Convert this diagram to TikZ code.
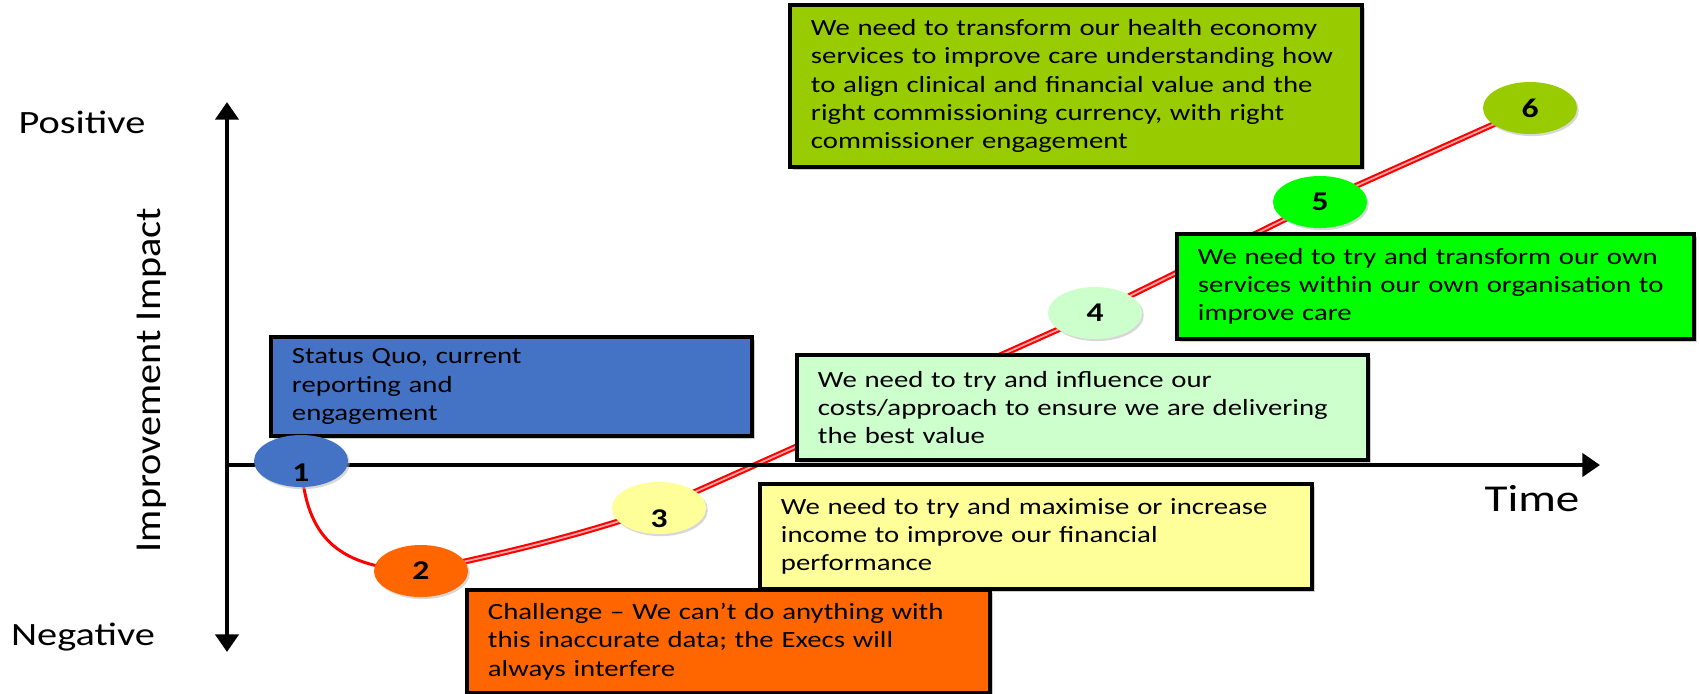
\documentclass[tikz,border=0pt]{standalone}
\usepackage{fontspec}
\setmainfont{Carlito}[FakeStretch=1.24]
\newfontfamily\plainfont{Carlito}[FakeStretch=1.1]
\usetikzlibrary{shapes.geometric,shadows,backgrounds,arrows.meta}

\definecolor{quoblue}{HTML}{4472C4}
\definecolor{challenge}{HTML}{FF6600}
\definecolor{income}{HTML}{FFFF99}
\definecolor{costs}{HTML}{CCFFCC}
\definecolor{ownserv}{HTML}{00FF00}
\definecolor{economy}{HTML}{99CC00}

\tikzset{
  >={Triangle[length=5pt,width=6.5pt]},
  axis/.style={line width=1.3pt, black},
  stage/.style={draw=black, line width=1.1pt, fill=#1, anchor=north west,
    inner xsep=0.21cm, align=left, font=\fontsize{6.6}{8.05}\selectfont,
    drop shadow={shadow xshift=0.9pt, shadow yshift=-0.9pt, fill=gray!80}},
  marker/.style={ellipse, fill=#1, minimum width=0.94cm, minimum height=0.52cm,
    inner sep=0pt, font=\bfseries\fontsize{7.7}{9}\selectfont,
    drop shadow={shadow xshift=0.5pt, shadow yshift=-0.6pt, fill=gray!60}},
  pathline/.style={draw=red, line width=0.6pt, double=red!35, double distance=0.5pt, line join=round},
}

\begin{document}
\begin{tikzpicture}[x=0.01cm, y=-0.01cm]
    \useasboundingbox (0,0) rectangle (1700,693);

    % axes
    \coordinate (origin) at (227,465);
    \coordinate (ytop) at (227,102);
    \coordinate (ybot) at (227,652);
    \coordinate (xend) at (1600,465);
    \draw[axis, <->] (ybot) -- (ytop);
    \draw[axis, ->] (origin) -- (xend);

    \node[anchor=base, font=\fontsize{9.25}{11}\selectfont] (pos) at (82,133) {Positive};
    \node[anchor=base, font=\fontsize{9.25}{11}\selectfont] (neg) at (83,645) {Negative};
    \node[anchor=base, font=\fontsize{10.8}{13}\selectfont] (time) at (1532,511) {Time};
    \node[anchor=base, rotate=90, font=\plainfont\fontsize{10.4}{12}\selectfont] (impact) at (160,380) {Improvement Impact};

    % boxes
    \node[stage=quoblue, minimum width=4.81cm, minimum height=0.91cm, text width=4.39cm] (quo) at (269,335)
        {Status Quo, current\\reporting and\\engagement};
    \node[stage=economy, minimum width=5.72cm, minimum height=1.62cm, text width=5.30cm] (econ) at (788,3)
        {We need to transform our health economy\\services to improve care understanding how\\to align clinical and financial value and the\\right commissioning currency, with right\\commissioner engagement};
    \node[stage=ownserv, minimum width=5.17cm, minimum height=1.05cm, text width=4.75cm] (own) at (1175,232)
        {We need to try and transform our own\\services within our own organisation to\\improve care};
    \node[stage=costs, minimum width=5.71cm, minimum height=1.05cm, text width=5.29cm] (cost) at (795,353)
        {We need to try and influence our\\costs/approach to ensure we are delivering\\the best value};
    \node[stage=income, minimum width=5.52cm, minimum height=1.05cm, text width=5.10cm] (inc) at (758,482)
        {We need to try and maximise or increase\\income to improve our financial\\performance};
    \node[stage=challenge, minimum width=5.23cm, minimum height=1.03cm, text width=4.81cm] (chal) at (465,588)
        {Challenge – We can’t do anything with\\this inaccurate data; the Execs will\\always interfere};

    % stages
    \node[marker=quoblue] (p1) at (301,461) {\raisebox{-0.2cm}[0pt][0pt]{1}};
    \node[marker=challenge] (p2) at (421,571) {2};
    \node[marker=income] (p3) at (659,508) {\raisebox{-0.19cm}[0pt][0pt]{3}};
    \node[marker=costs] (p4) at (1095,313) {4};
    \node[marker=ownserv] (p5) at (1320,202) {5};
    \node[marker=economy] (p6) at (1530,108) {6};

    \begin{scope}[on background layer]
        \draw[red, line width=0.85pt] (p1.center) .. controls (305,540) and (340,568) .. (p2.center);
        \draw[pathline] (p2.center) .. controls (520,550) and (590,532) .. (p3.center)
            -- (p4.center) -- (p5.center) -- (p6.center);
    \end{scope}
\end{tikzpicture}
\end{document}
